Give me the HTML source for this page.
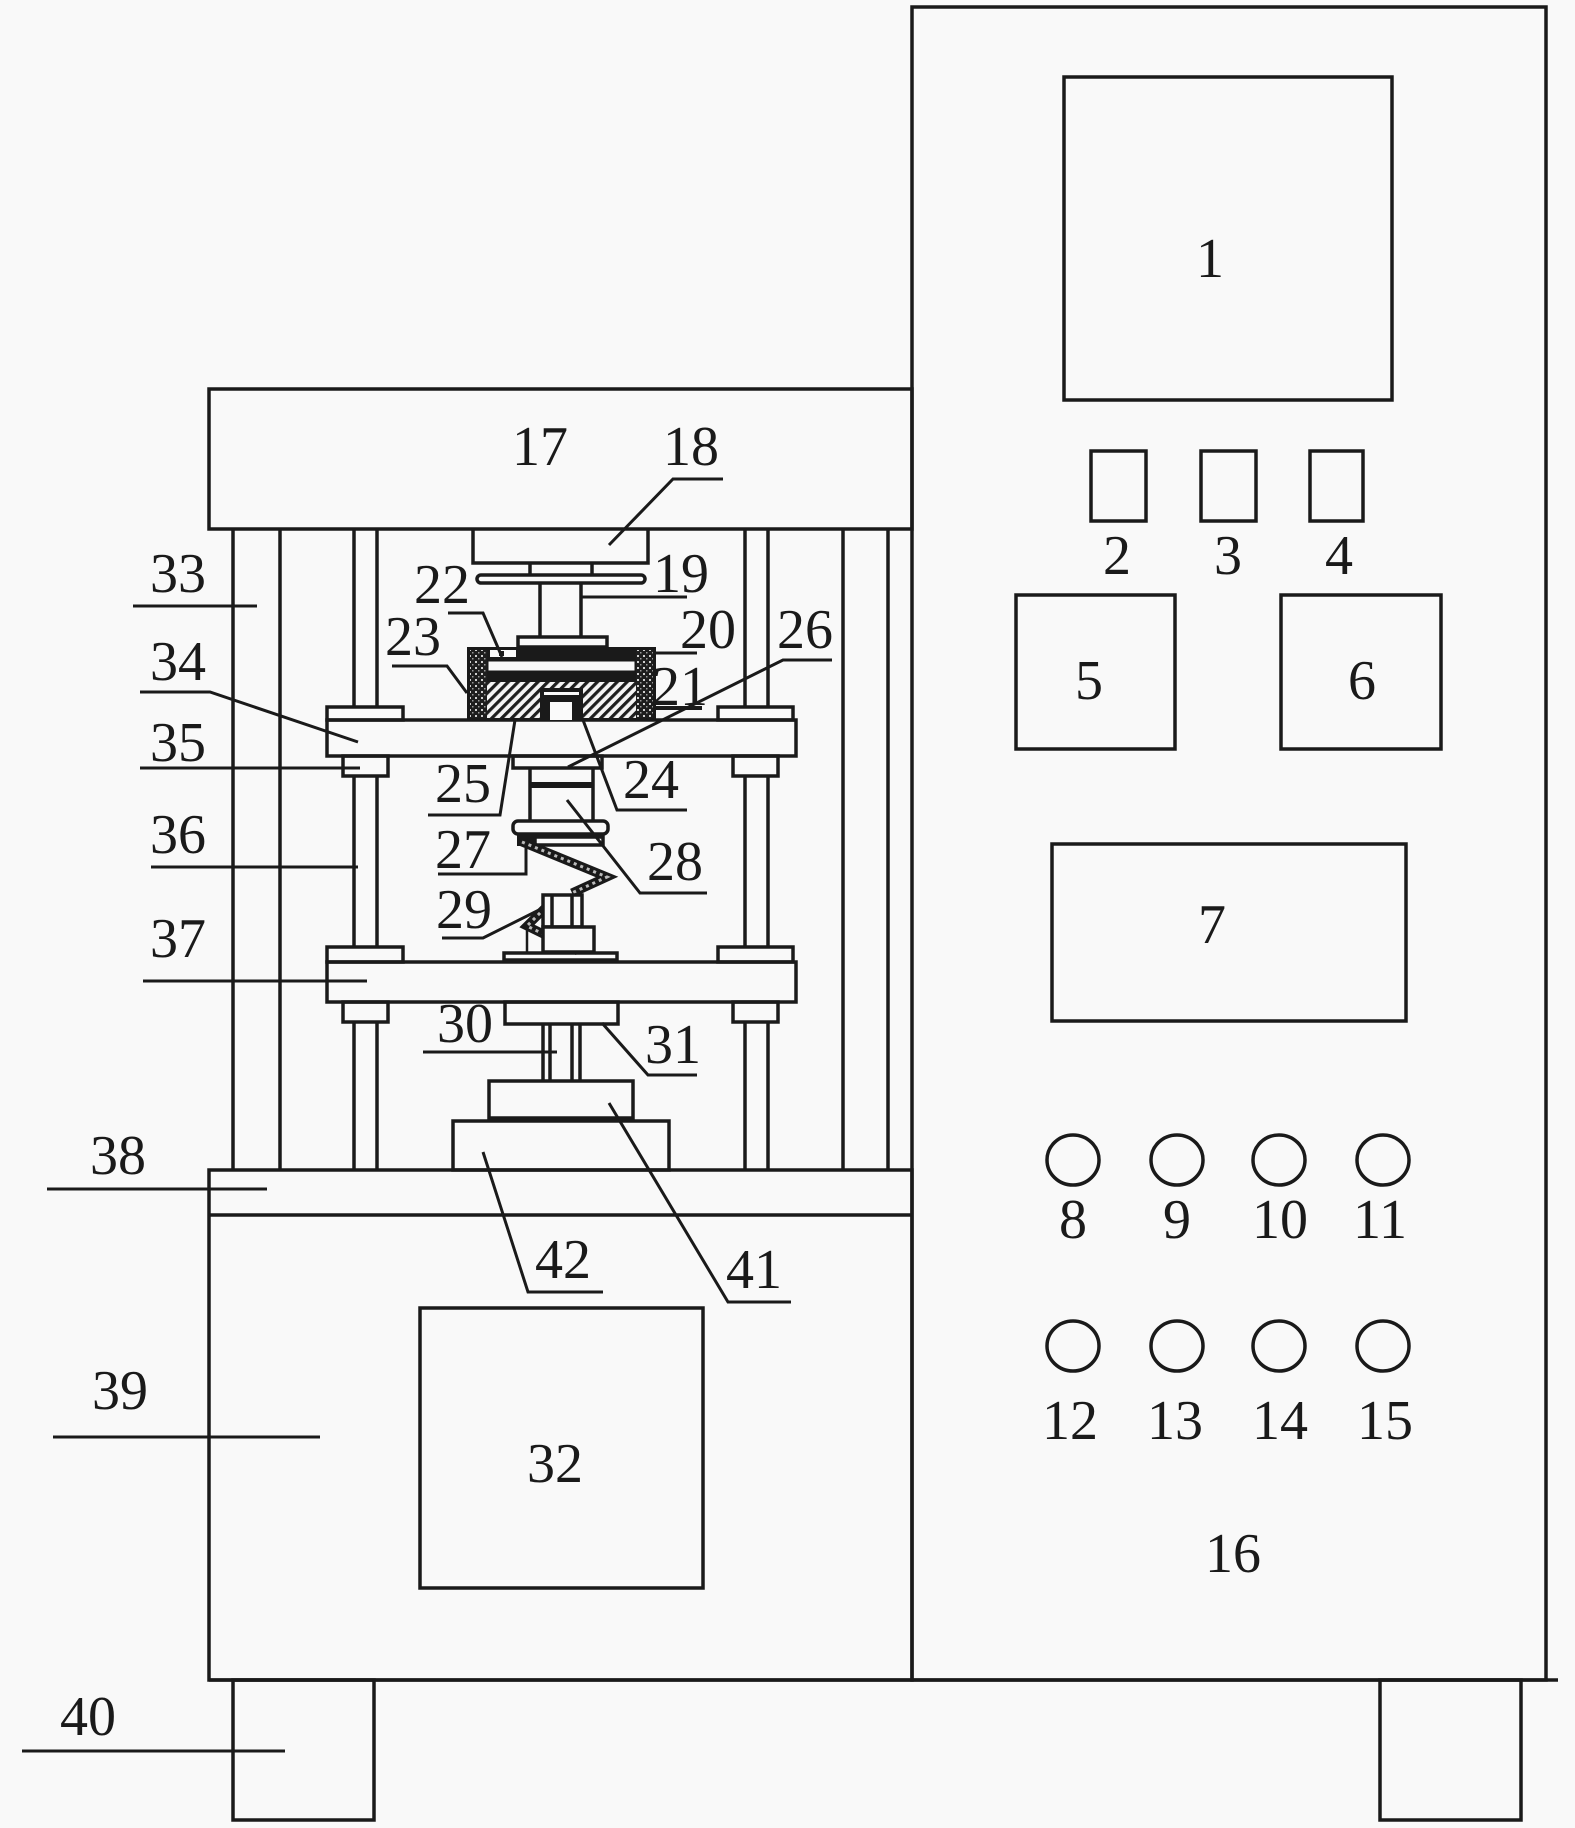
<!DOCTYPE html>
<html>
<head>
<meta charset="utf-8">
<style>
html,body{margin:0;padding:0;background:#f9f9f9;}
svg{display:block;}
text{font-family:"Liberation Serif","DejaVu Serif",serif;font-size:56px;fill:#1a1a1a;text-anchor:middle;}
</style>
</head>
<body>
<svg width="1575" height="1828" viewBox="0 0 1575 1828" xmlns="http://www.w3.org/2000/svg">
<defs>
<pattern id="h" width="7" height="7" patternUnits="userSpaceOnUse" patternTransform="rotate(45)">
<rect width="7" height="7" fill="#f4f4f4"/>
<rect width="3.2" height="7" fill="#1e1e1e"/>
</pattern>
<pattern id="x" width="6" height="6" patternUnits="userSpaceOnUse">
<rect width="6" height="6" fill="#1e1e1e"/>
<rect x="1" y="1" width="2" height="2" fill="#cfcfcf"/>
<rect x="4" y="4" width="1.5" height="1.5" fill="#9a9a9a"/>
</pattern>
</defs>
<rect width="1575" height="1828" fill="#f9f9f9"/>

<g fill="none" stroke="#1a1a1a" stroke-width="3.5">
<rect x="912" y="7" width="634" height="1673"/>
<line x1="209" y1="1680" x2="1558" y2="1680"/>
<rect x="1064" y="77" width="328" height="323"/>
<rect x="1091" y="451" width="55" height="70"/>
<rect x="1201" y="451" width="55" height="70"/>
<rect x="1310" y="451" width="53" height="70"/>
<rect x="1016" y="595" width="159" height="154"/>
<rect x="1281" y="595" width="160" height="154"/>
<rect x="1052" y="844" width="354" height="177"/>
<ellipse cx="1073" cy="1160" rx="26" ry="25"/>
<ellipse cx="1177" cy="1160" rx="26" ry="25"/>
<ellipse cx="1279" cy="1160" rx="26" ry="25"/>
<ellipse cx="1383" cy="1160" rx="26" ry="25"/>
<ellipse cx="1073" cy="1346" rx="26" ry="25"/>
<ellipse cx="1177" cy="1346" rx="26" ry="25"/>
<ellipse cx="1279" cy="1346" rx="26" ry="25"/>
<ellipse cx="1383" cy="1346" rx="26" ry="25"/>

<rect x="233" y="1680" width="141" height="140"/>
<rect x="1380" y="1680" width="141" height="140"/>

<rect x="209" y="389" width="703" height="140"/>

<rect x="209" y="1170" width="703" height="510"/>
<line x1="209" y1="1215" x2="912" y2="1215"/>
<rect x="420" y="1308" width="283" height="280"/>

<line x1="233" y1="529" x2="233" y2="1170"/>
<line x1="280" y1="529" x2="280" y2="1170"/>
<line x1="843" y1="529" x2="843" y2="1170"/>
<line x1="888" y1="529" x2="888" y2="1170"/>

<line x1="354" y1="529" x2="354" y2="707"/>
<line x1="377" y1="529" x2="377" y2="707"/>
<line x1="745" y1="529" x2="745" y2="707"/>
<line x1="768" y1="529" x2="768" y2="707"/>
<line x1="354" y1="776" x2="354" y2="947"/>
<line x1="377" y1="776" x2="377" y2="947"/>
<line x1="745" y1="776" x2="745" y2="947"/>
<line x1="768" y1="776" x2="768" y2="947"/>
<line x1="354" y1="1022" x2="354" y2="1170"/>
<line x1="377" y1="1022" x2="377" y2="1170"/>
<line x1="745" y1="1022" x2="745" y2="1170"/>
<line x1="768" y1="1022" x2="768" y2="1170"/>

<rect x="327" y="707" width="76" height="13"/>
<rect x="718" y="707" width="75" height="13"/>
<rect x="327" y="720" width="469" height="36"/>
<rect x="343" y="756" width="45" height="20"/>
<rect x="733" y="756" width="45" height="20"/>

<rect x="327" y="947" width="76" height="15"/>
<rect x="718" y="947" width="75" height="15"/>
<rect x="327" y="962" width="469" height="40"/>
<rect x="343" y="1002" width="45" height="20"/>
<rect x="733" y="1002" width="45" height="20"/>

<polyline points="473,529 473,563 648,563 648,529"/>
<line x1="530" y1="563" x2="530" y2="575"/>
<line x1="592" y1="563" x2="592" y2="575"/>
<rect x="477" y="575" width="168" height="8" rx="4"/>
<line x1="540" y1="583" x2="540" y2="637"/>
<line x1="581" y1="583" x2="581" y2="637"/>
<rect x="518" y="637" width="89" height="10"/>
</g>

<rect x="467" y="647" width="189" height="73" fill="#1a1a1a"/>
<rect x="488" y="661" width="147" height="10" fill="#fafafa" stroke="#1a1a1a" stroke-width="1"/>
<rect x="479" y="682" width="161" height="36" fill="url(#h)"/>
<rect x="470" y="650" width="17" height="68" fill="url(#x)"/>
<rect x="636" y="650" width="17" height="68" fill="url(#x)"/>
<rect x="540" y="688" width="43" height="32" fill="#1a1a1a"/>
<rect x="550" y="702" width="22" height="18" fill="#fafafa"/>
<rect x="544" y="692" width="35" height="3" fill="#fafafa"/>
<rect x="490" y="650" width="26" height="7" fill="#fafafa"/>
<rect x="499" y="651" width="5" height="5" fill="#1a1a1a"/>

<g fill="none" stroke="#1a1a1a" stroke-width="3.5">
<rect x="513" y="756" width="89" height="12"/>
<line x1="530" y1="768" x2="530" y2="821"/>
<line x1="593" y1="768" x2="593" y2="821"/>
<line x1="530" y1="785" x2="593" y2="785" stroke-width="6"/>
<rect x="513" y="821" width="95" height="13" rx="5"/>
<rect x="535" y="837" width="68" height="8"/>
</g>
<rect x="517" y="834" width="18" height="12" fill="#1a1a1a"/>

<g fill="none">
<polyline points="522,842 607,877 572,893" stroke="#1a1a1a" stroke-width="9"/>
<polyline points="522,842 607,877 572,893" stroke="#bbb" stroke-width="3" stroke-dasharray="3 4"/>
<polyline points="545,908 527,926 578,951" stroke="#1a1a1a" stroke-width="9"/>
<polyline points="545,908 527,926 578,951" stroke="#bbb" stroke-width="3" stroke-dasharray="3 4"/>
</g>

<g fill="none" stroke="#1a1a1a" stroke-width="3.5">
<rect x="543" y="895" width="39" height="32" fill="#f9f9f9"/>
<line x1="552" y1="895" x2="552" y2="927"/>
<line x1="572" y1="895" x2="572" y2="927"/>
<rect x="543" y="927" width="51" height="25" fill="#f9f9f9"/>
<rect x="504" y="953" width="113" height="7"/>
<line x1="527" y1="930" x2="527" y2="952" stroke-width="2.5"/>

<rect x="505" y="1002" width="113" height="22"/>
<line x1="543" y1="1024" x2="543" y2="1081"/>
<line x1="550" y1="1024" x2="550" y2="1081"/>
<line x1="572" y1="1024" x2="572" y2="1081"/>
<line x1="580" y1="1024" x2="580" y2="1081"/>
<rect x="489" y="1081" width="144" height="37"/>
<rect x="453" y="1121" width="216" height="49"/>
</g>

<g fill="none" stroke="#1a1a1a" stroke-width="3">
<polyline points="133,606 257,606"/>
<polyline points="140,692 210,692 358,742"/>
<polyline points="140,768 360,768"/>
<polyline points="151,867 358,867"/>
<polyline points="143,981 367,981"/>
<polyline points="47,1189 267,1189"/>
<polyline points="53,1437 320,1437"/>
<polyline points="22,1751 285,1751"/>
<polyline points="723,479 673,479 609,545"/>
<polyline points="581,597 687,597"/>
<polyline points="656,653 697,653"/>
<polyline points="448,613 483,613 502,657"/>
<polyline points="392,666 447,666 467,693"/>
<polyline points="655,708 702,708" stroke-width="4"/>
<polyline points="832,660 783,660 568,767"/>
<polyline points="687,810 617,810 583,720"/>
<polyline points="428,815 500,815 515,720"/>
<polyline points="438,874 526,874 526,848"/>
<polyline points="707,893 640,893 567,800"/>
<polyline points="442,938 483,938 543,908"/>
<polyline points="423,1052 557,1052"/>
<polyline points="697,1075 648,1075 602,1023"/>
<polyline points="791,1302 728,1302 609,1103"/>
<polyline points="603,1292 528,1292 483,1152"/>
</g>

<text x="1210" y="277">1</text>
<text x="1117" y="574">2</text>
<text x="1228" y="574">3</text>
<text x="1339" y="574">4</text>
<text x="1089" y="699">5</text>
<text x="1362" y="699">6</text>
<text x="1212" y="943">7</text>
<text x="1073" y="1238">8</text>
<text x="1177" y="1238">9</text>
<text x="1280" y="1238">10</text>
<text x="1380" y="1238">11</text>
<text x="1070" y="1439">12</text>
<text x="1175" y="1439">13</text>
<text x="1280" y="1439">14</text>
<text x="1385" y="1439">15</text>
<text x="1233" y="1572">16</text>
<text x="540" y="465">17</text>
<text x="691" y="465">18</text>
<text x="681" y="592">19</text>
<text x="708" y="648">20</text>
<text x="680" y="705">21</text>
<text x="442" y="603">22</text>
<text x="413" y="655">23</text>
<text x="651" y="798">24</text>
<text x="463" y="802">25</text>
<text x="805" y="648">26</text>
<text x="463" y="868">27</text>
<text x="675" y="880">28</text>
<text x="464" y="928">29</text>
<text x="465" y="1042">30</text>
<text x="673" y="1063">31</text>
<text x="555" y="1482">32</text>
<text x="178" y="592">33</text>
<text x="178" y="680">34</text>
<text x="178" y="761">35</text>
<text x="178" y="853">36</text>
<text x="178" y="957">37</text>
<text x="118" y="1174">38</text>
<text x="120" y="1409">39</text>
<text x="88" y="1735">40</text>
<text x="754" y="1288">41</text>
<text x="563" y="1278">42</text>
</svg>
</body>
</html>
